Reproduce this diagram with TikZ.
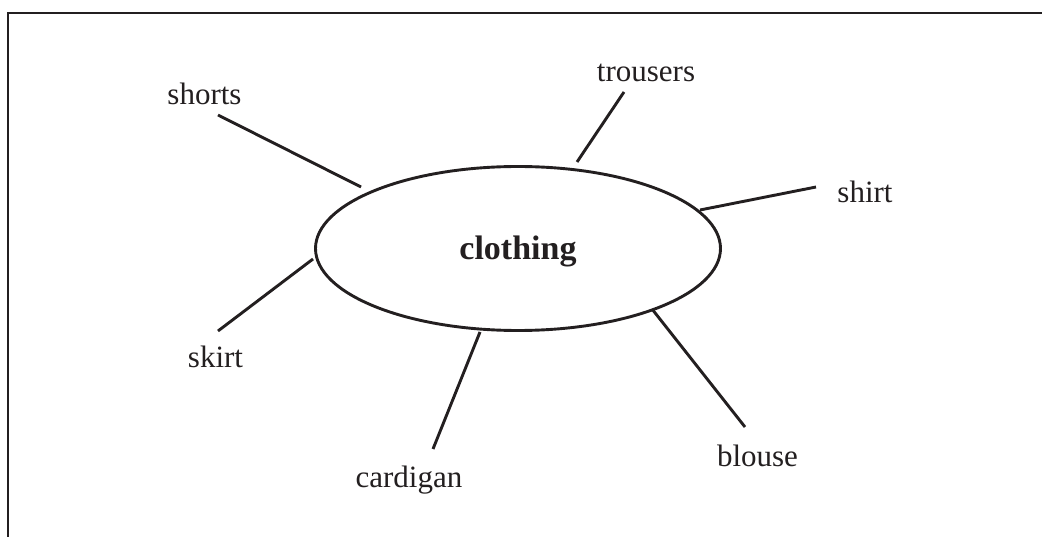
\documentclass[tikz,border=0pt]{standalone}
\usepackage{fontspec}
\setmainfont{Liberation Serif}
\usetikzlibrary{shapes.geometric}
\definecolor{ink}{RGB}{35,31,32}
\begin{document}
\begin{tikzpicture}[x=1pt,y=-1pt,
  lbl/.style={anchor=base,inner sep=0pt,text=ink,font=\fontsize{31}{36}\selectfont},
  conn/.style={draw=ink,line width=2.9pt},
  frame/.style={draw=ink,line width=2.5pt}]
\useasboundingbox (0,0) rectangle (1042,537);
\draw[frame] (8,537) -- (8,13) -- (1042,13);
\node[ellipse,draw=ink,line width=2.9pt,minimum width=405pt,minimum height=164pt,inner sep=0pt]
  (c) at (518,248.5) {};
\node[anchor=base,inner sep=0pt,text=ink,font=\bfseries\fontsize{34}{40}\selectfont] (t) at (518,260) {clothing};
\node[lbl] (shorts) at (204.5,105) {shorts};
\node[lbl] (trousers) at (646,82) {trousers};
\node[lbl] (shirt) at (865,203) {shirt};
\node[lbl] (skirt) at (215.5,368) {skirt};
\node[lbl] (cardigan) at (409,487) {cardigan};
\node[lbl] (blouse) at (757.5,466) {blouse};
% free ends near labels
\coordinate (a1) at (218,115);
\coordinate (a2) at (624,92);
\coordinate (a3) at (816,187);
\coordinate (a4) at (218,331);
\coordinate (a5) at (433,449);
\coordinate (a6) at (745,427);
% ends at the ellipse
\coordinate (b1) at (361,187);
\coordinate (b2) at (577,162);
\coordinate (b3) at (700,210);
\coordinate (b4) at (313,259);
\coordinate (b5) at (480,332);
\coordinate (b6) at (652,309);
\draw[conn] (a1) -- (b1);
\draw[conn] (a2) -- (b2);
\draw[conn] (a3) -- (b3);
\draw[conn] (a4) -- (b4);
\draw[conn] (a5) -- (b5);
\draw[conn] (a6) -- (b6);
\end{tikzpicture}
\end{document}
